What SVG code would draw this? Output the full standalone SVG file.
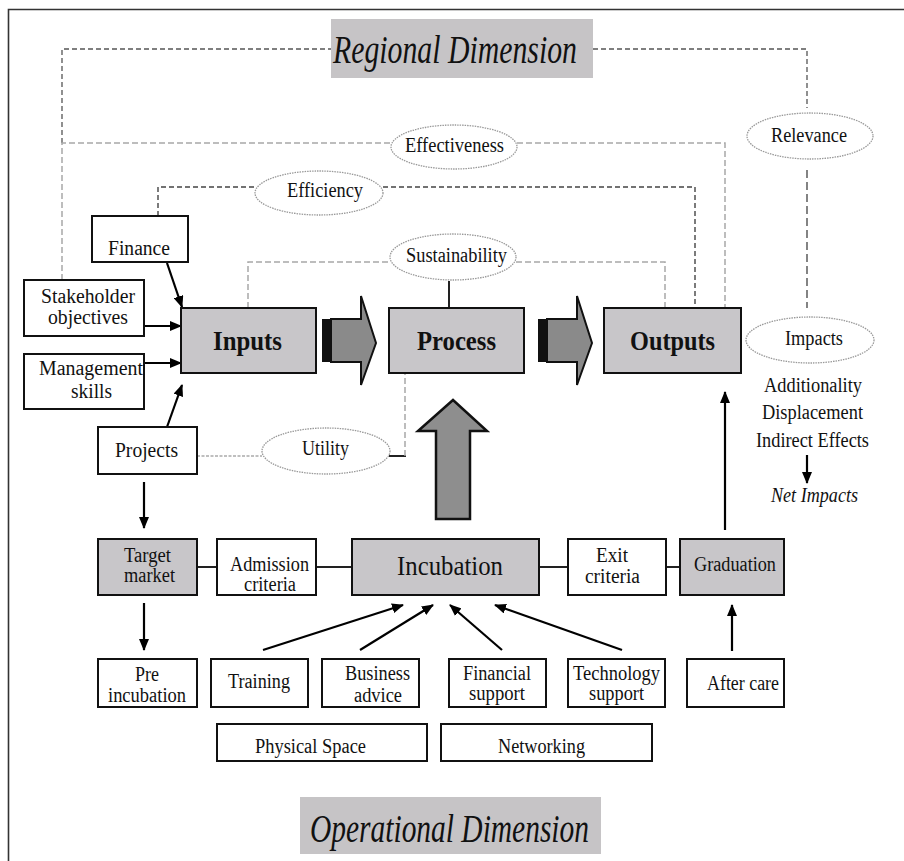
<svg xmlns="http://www.w3.org/2000/svg" width="904" height="861" viewBox="0 0 904 861">
<defs>
<style>
text{font-family:"Liberation Serif","Times New Roman",serif;fill:#111;}
.t{font-size:20px;}
.b{font-size:28px;font-weight:bold;}
.i{font-style:italic;}
.box{fill:#fff;stroke:#111;stroke-width:2;}
.gbox{fill:#c8c6c9;stroke:#111;stroke-width:2;}
.ell{fill:#fff;stroke:#999;stroke-width:1.3;stroke-dasharray:1.5,1;}
.arr{stroke:#000;stroke-width:2.2;fill:none;marker-end:url(#ah);}
.ln{stroke:#222;stroke-width:2;fill:none;}
.dk{stroke:#555;stroke-width:1.3;fill:none;stroke-dasharray:5,3;}
.lg{stroke:#a8a8a8;stroke-width:1.5;fill:none;stroke-dasharray:6,3;}
.ed{stroke:#444;stroke-width:1.4;fill:none;stroke-dasharray:5,3;}
.rl{stroke:#333;stroke-width:1.2;fill:none;stroke-dasharray:8,4;}
.ut{stroke:#aaa;stroke-width:1.6;fill:none;stroke-dasharray:3,1.5;}
</style>
<marker id="ah" markerUnits="userSpaceOnUse" markerWidth="12" markerHeight="10" refX="11" refY="5" orient="auto">
<path d="M0,0 L12,5 L0,10 Z" fill="#000"/>
</marker>
</defs>
<rect width="904" height="861" fill="#fff"/>
<path d="M8.5,861 V9.5 H904" fill="none" stroke="#333" stroke-width="1.6"/>

<g id="connectors">
<path class="dk" d="M62,143 V49 H331"/>
<path class="dk" d="M593,49 H807 V108"/>
<path class="rl" d="M807,170 V308"/>
<path class="lg" d="M62,280 V143 H391"/>
<path class="lg" d="M517,143 H725 V308"/>
<path class="ed" d="M158,216 V187 H256"/>
<path class="ed" d="M383,187 H695 V308"/>
<path class="lg" d="M248,308 V262 H390"/>
<path class="lg" d="M516,262 H665 V308"/>
<line class="ln" x1="449" y1="281" x2="449" y2="308" stroke-width="1.5"/>
<line class="ut" x1="197" y1="456" x2="262" y2="456"/>
<line class="ln" x1="389" y1="456" x2="406" y2="456"/>
<path class="lg" d="M405,456 V373"/>
<line class="arr" x1="167" y1="263" x2="182" y2="307"/>
<line class="arr" x1="144" y1="326" x2="181" y2="326"/>
<line class="arr" x1="144" y1="363" x2="181" y2="363"/>
<line class="arr" x1="167" y1="427" x2="182" y2="385"/>
<line class="arr" x1="144" y1="482" x2="144" y2="528"/>
<line class="arr" x1="144" y1="603" x2="144" y2="650"/>
<line class="arr" x1="263" y1="650" x2="403" y2="605"/>
<line class="arr" x1="360" y1="650" x2="433" y2="605"/>
<line class="arr" x1="502" y1="650" x2="450" y2="605"/>
<line class="arr" x1="622" y1="650" x2="495" y2="605"/>
<line class="arr" x1="732" y1="651" x2="732" y2="605"/>
<line class="arr" x1="725" y1="530" x2="725" y2="392"/>
<line class="arr" x1="807" y1="455" x2="807" y2="483" stroke-width="1.5"/>
<line class="ln" x1="197" y1="567" x2="217" y2="567"/>
<line class="ln" x1="316" y1="567" x2="352" y2="567"/>
<line class="ln" x1="539" y1="567" x2="568" y2="567"/>
<line class="ln" x1="666" y1="567" x2="680" y2="567"/>
<g id="blockarrow1">
<rect x="322" y="319" width="10" height="43" fill="#111"/>
<path d="M331,319 H361 V296 L376,343 L361,385 V362 H331 Z" fill="#8a8a8a" stroke="#111" stroke-width="2"/>
</g>
<g id="blockarrow2">
<rect x="538" y="319" width="10" height="43" fill="#111"/>
<path d="M547,319 H577 V296 L592,343 L577,385 V362 H547 Z" fill="#8a8a8a" stroke="#111" stroke-width="2"/>
</g>
<g id="uparrow">
<path d="M436,519 V431 H418 L453,400 L487,431 H470 V519 Z" fill="#8e8e8e" stroke="#111" stroke-width="2.5"/>
</g>
</g>

<g id="regional">
<rect x="331" y="19" width="262" height="59" fill="#c6c4c6"/>
<text class="i" x="333" y="63" font-size="40" textLength="244" lengthAdjust="spacingAndGlyphs">Regional Dimension</text>
</g>
<g id="effectiveness"><ellipse class="ell" cx="454" cy="147" rx="63" ry="22"/><text class="t" x="405" y="152" textLength="99" lengthAdjust="spacingAndGlyphs">Effectiveness</text></g>
<g id="relevance"><ellipse class="ell" cx="810" cy="136" rx="63" ry="23"/><text class="t" x="771" y="142" textLength="76" lengthAdjust="spacingAndGlyphs">Relevance</text></g>
<g id="efficiency"><ellipse class="ell" cx="319" cy="193" rx="64" ry="22"/><text class="t" x="287" y="197" textLength="76" lengthAdjust="spacingAndGlyphs">Efficiency</text></g>
<g id="sustainability"><ellipse class="ell" cx="453" cy="257" rx="63" ry="23"/><text class="t" x="406" y="262" textLength="101" lengthAdjust="spacingAndGlyphs">Sustainability</text></g>
<g id="finance"><rect class="box" x="92" y="216" width="96" height="46"/><text class="t" x="108" y="255" font-size="21" textLength="62" lengthAdjust="spacingAndGlyphs">Finance</text></g>
<g id="stakeholder"><rect class="box" x="24" y="280" width="120" height="56"/><text class="t" x="41" y="303" font-size="21" textLength="94" lengthAdjust="spacingAndGlyphs">Stakeholder</text><text class="t" x="48" y="324" font-size="21" textLength="80" lengthAdjust="spacingAndGlyphs">objectives</text></g>
<g id="management"><rect class="box" x="24" y="354" width="120" height="55"/><text class="t" x="39" y="375" font-size="21" textLength="104" lengthAdjust="spacingAndGlyphs">Management</text><text class="t" x="71" y="398" font-size="21" textLength="41" lengthAdjust="spacingAndGlyphs">skills</text></g>
<g id="inputs"><rect class="gbox" x="181" y="308" width="135" height="65"/><text class="b" x="213" y="350" textLength="69" lengthAdjust="spacingAndGlyphs">Inputs</text></g>
<g id="process"><rect class="gbox" x="389" y="308" width="135" height="65"/><text class="b" x="417" y="350" textLength="79" lengthAdjust="spacingAndGlyphs">Process</text></g>
<g id="outputs"><rect class="gbox" x="604" y="308" width="137" height="65"/><text class="b" x="630" y="350" textLength="85" lengthAdjust="spacingAndGlyphs">Outputs</text></g>
<g id="impacts"><ellipse class="ell" cx="810" cy="340" rx="64" ry="23"/><text class="t" x="785" y="345" textLength="58" lengthAdjust="spacingAndGlyphs">Impacts</text>
<text class="t" x="764" y="392" font-size="21" textLength="98" lengthAdjust="spacingAndGlyphs">Additionality</text>
<text class="t" x="762" y="419" font-size="21" textLength="101" lengthAdjust="spacingAndGlyphs">Displacement</text>
<text class="t" x="756" y="447" font-size="21" textLength="113" lengthAdjust="spacingAndGlyphs">Indirect Effects</text>
<text class="t i" x="771" y="502" font-size="21" textLength="87" lengthAdjust="spacingAndGlyphs">Net Impacts</text></g>
<g id="projects"><rect class="box" x="98" y="427" width="99" height="47"/><text class="t" x="115" y="457" font-size="21" textLength="63" lengthAdjust="spacingAndGlyphs">Projects</text></g>
<g id="utility"><ellipse class="ell" cx="326" cy="451" rx="64" ry="23"/><text class="t" x="302" y="455" textLength="47" lengthAdjust="spacingAndGlyphs">Utility</text></g>
<g id="target"><rect class="gbox" x="98" y="539" width="99" height="56"/><text class="t" x="124" y="562" textLength="47" lengthAdjust="spacingAndGlyphs">Target</text><text class="t" x="124" y="582" textLength="51" lengthAdjust="spacingAndGlyphs">market</text></g>
<g id="admission"><rect class="box" x="217" y="539" width="99" height="56"/><text class="t" x="230" y="571" textLength="79" lengthAdjust="spacingAndGlyphs">Admission</text><text class="t" x="244" y="591" textLength="52" lengthAdjust="spacingAndGlyphs">criteria</text></g>
<g id="incubation"><rect class="gbox" x="352" y="539" width="187" height="56"/><text x="397" y="575" font-size="28" textLength="106" lengthAdjust="spacingAndGlyphs">Incubation</text></g>
<g id="exit"><rect class="box" x="568" y="539" width="98" height="56"/><text class="t" x="596" y="562" font-size="21" textLength="32" lengthAdjust="spacingAndGlyphs">Exit</text><text class="t" x="585" y="583" font-size="21" textLength="55" lengthAdjust="spacingAndGlyphs">criteria</text></g>
<g id="graduation"><rect class="gbox" x="680" y="539" width="104" height="56"/><text class="t" x="694" y="571" textLength="82" lengthAdjust="spacingAndGlyphs">Graduation</text></g>
<g id="preincubation"><rect class="box" x="98" y="659" width="99" height="48"/><text class="t" x="135" y="681" textLength="24" lengthAdjust="spacingAndGlyphs">Pre</text><text class="t" x="108" y="702" textLength="78" lengthAdjust="spacingAndGlyphs">incubation</text></g>
<g id="training"><rect class="box" x="211" y="659" width="97" height="48"/><text class="t" x="228" y="688" textLength="62" lengthAdjust="spacingAndGlyphs">Training</text></g>
<g id="business"><rect class="box" x="322" y="659" width="97" height="48"/><text class="t" x="345" y="680" textLength="65" lengthAdjust="spacingAndGlyphs">Business</text><text class="t" x="354" y="702" textLength="48" lengthAdjust="spacingAndGlyphs">advice</text></g>
<g id="financial"><rect class="box" x="449" y="659" width="97" height="48"/><text class="t" x="463" y="680" font-size="18" textLength="68" lengthAdjust="spacingAndGlyphs">Financial</text><text class="t" x="469" y="700" font-size="18" textLength="56" lengthAdjust="spacingAndGlyphs">support</text></g>
<g id="technology"><rect class="box" x="568" y="659" width="97" height="48"/><text class="t" x="573" y="680" font-size="18" textLength="87" lengthAdjust="spacingAndGlyphs">Technology</text><text class="t" x="589" y="700" font-size="18" textLength="55" lengthAdjust="spacingAndGlyphs">support</text></g>
<g id="aftercare"><rect class="box" x="687" y="659" width="97" height="48"/><text class="t" x="707" y="690" font-size="21" textLength="72" lengthAdjust="spacingAndGlyphs">After care</text></g>
<g id="physical"><rect class="box" x="217" y="724" width="210" height="37"/><text class="t" x="255" y="753" textLength="111" lengthAdjust="spacingAndGlyphs">Physical Space</text></g>
<g id="networking"><rect class="box" x="441" y="724" width="211" height="37"/><text class="t" x="498" y="753" textLength="87" lengthAdjust="spacingAndGlyphs">Networking</text></g>
<g id="operational">
<rect x="300" y="797" width="301" height="57" fill="#c6c4c6"/>
<text class="i" x="310" y="842" font-size="40" textLength="279" lengthAdjust="spacingAndGlyphs">Operational Dimension</text>
</g>
</svg>
